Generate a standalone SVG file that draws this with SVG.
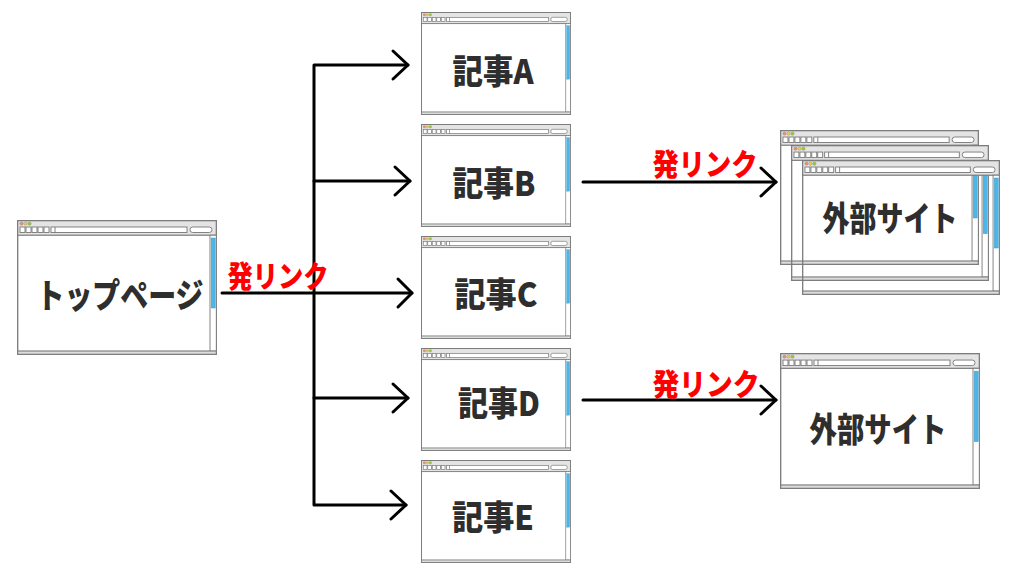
<svg xmlns="http://www.w3.org/2000/svg" xmlns:xlink="http://www.w3.org/1999/xlink" width="1024" height="576" viewBox="0 0 1024 576">
<style>
.fr{fill:none;stroke:#7a7a7a;stroke-width:1.3}
.hd{fill:#e4e4e4;stroke:#7a7a7a;stroke-width:1.2}
.bx{fill:#fff;stroke:#777;stroke-width:0.9}
.lbl{font-family:"Noto Sans CJK JP","Noto Sans",sans-serif;font-weight:900;fill:#2e2e2e;font-size:34px;text-anchor:middle;dominant-baseline:central}
.red{font-family:"Noto Sans CJK JP","Noto Sans",sans-serif;font-weight:900;fill:#ff0000;font-size:30px;text-anchor:middle;dominant-baseline:central}
.ln{fill:none;stroke:#000;stroke-width:3;stroke-linecap:round;stroke-linejoin:round}
</style>
<defs>
<symbol id="win" viewBox="0 0 200 135" preserveAspectRatio="none">
<rect class="fr" x="0.7" y="0.7" width="198.6" height="133.6"/>
<rect class="hd" x="0.7" y="0.7" width="198.6" height="14.5"/>
<circle cx="4.5" cy="3.6" r="1.7" fill="#ef8a80" stroke="#888" stroke-width="0.4"/>
<circle cx="8.5" cy="3.6" r="1.7" fill="#e6d23c" stroke="#888" stroke-width="0.4"/>
<circle cx="12.5" cy="3.6" r="1.7" fill="#9cc83a" stroke="#888" stroke-width="0.4"/>
<rect class="bx" x="3" y="7" width="5" height="5.5"/>
<rect class="bx" x="9" y="7" width="5" height="5.5"/>
<rect class="bx" x="15" y="7" width="5" height="5.5"/>
<rect class="bx" x="21" y="7" width="5" height="5.5"/>
<rect class="bx" x="27" y="7" width="5" height="5.5"/>
<rect class="bx" x="34" y="7" width="136" height="5.5"/>
<line x1="38" y1="7" x2="38" y2="12.5" stroke="#777" stroke-width="0.9"/>
<rect class="bx" x="173" y="7" width="22" height="5.5" rx="2.7"/>
<rect class="bx" x="193" y="15.2" width="6.3" height="116"/>
<rect x="194.2" y="18" width="4" height="70" fill="#4db6e6" stroke="#3a9cc8" stroke-width="0.5"/>
<rect x="0.7" y="131" width="198.6" height="3.3" fill="#dcdcdc" stroke="#7a7a7a" stroke-width="1.1"/>
</symbol>
</defs>
<rect width="1024" height="576" fill="#fff"/>

<g id="connectors">
<polyline class="ln" points="222,293 412,293"/>
<polyline class="ln" points="398,279 412,293 398,307"/>
<polyline class="ln" points="408,65 314,65 314,505 406,505"/>
<polyline class="ln" points="393,51 408,65 393,79"/>
<polyline class="ln" points="314,181 410,181"/>
<polyline class="ln" points="395,167 410,181 395,195"/>
<polyline class="ln" points="314,398 408,398"/>
<polyline class="ln" points="393,384 408,398 393,412"/>
<polyline class="ln" points="391,491 406,505 391,519"/>
<polyline class="ln" points="583,182 776,182"/>
<polyline class="ln" points="761,168 776,182 761,196"/>
<polyline class="ln" points="583,400 776,400"/>
<polyline class="ln" points="761,386 776,400 761,414"/>
<text class="red" x="278" y="274" textLength="101" lengthAdjust="spacingAndGlyphs">発リンク</text>
<text class="red" x="705" y="162" textLength="105" lengthAdjust="spacingAndGlyphs">発リンク</text>
<text class="red" x="706" y="382" textLength="107" lengthAdjust="spacingAndGlyphs">発リンク</text>
</g>

<g id="top-page">
<use xlink:href="#win" href="#win" x="17" y="220" width="200" height="135"/>
<text class="lbl" x="120" y="293" textLength="167" lengthAdjust="spacingAndGlyphs">トップページ</text>
</g>
<g id="article-a">
<use xlink:href="#win" href="#win" x="421" y="12" width="150" height="103"/>
<text class="lbl" x="493" y="69" textLength="81" lengthAdjust="spacingAndGlyphs">記事A</text>
</g>
<g id="article-b">
<use xlink:href="#win" href="#win" x="421" y="124" width="150" height="103"/>
<text class="lbl" x="494" y="181" textLength="83" lengthAdjust="spacingAndGlyphs">記事B</text>
</g>
<g id="article-c">
<use xlink:href="#win" href="#win" x="421" y="236" width="150" height="103"/>
<text class="lbl" x="496" y="292" textLength="83" lengthAdjust="spacingAndGlyphs">記事C</text>
</g>
<g id="article-d">
<use xlink:href="#win" href="#win" x="421" y="348" width="150" height="103"/>
<text class="lbl" x="499" y="401" textLength="82" lengthAdjust="spacingAndGlyphs">記事D</text>
</g>
<g id="article-e">
<use xlink:href="#win" href="#win" x="421" y="460" width="150" height="103"/>
<text class="lbl" x="493" y="515" textLength="82" lengthAdjust="spacingAndGlyphs">記事E</text>
</g>
<g id="external-b">
<use xlink:href="#win" href="#win" x="780" y="130" width="199" height="135"/>
<use xlink:href="#win" href="#win" x="791" y="145" width="198" height="136"/>
<use xlink:href="#win" href="#win" x="802" y="160" width="198" height="135"/>
<text class="lbl" x="890" y="216" textLength="135" lengthAdjust="spacingAndGlyphs">外部サイト</text>
</g>
<g id="external-d">
<use xlink:href="#win" href="#win" x="780" y="353" width="200" height="136"/>
<text class="lbl" x="878" y="427" textLength="137" lengthAdjust="spacingAndGlyphs">外部サイト</text>
</g>
</svg>
